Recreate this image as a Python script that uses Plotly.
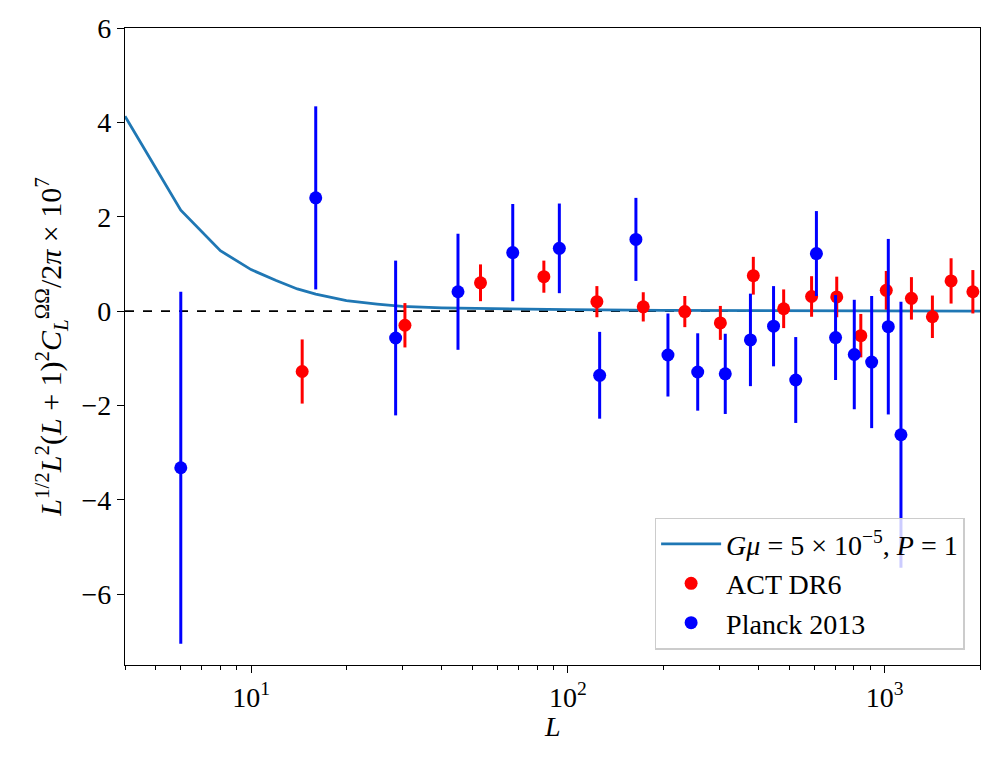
import math
import plotly.graph_objects as go

# Theory curve
theory_L = [4, 6, 8, 10, 12, 14, 16, 18, 20, 25, 30, 40, 60, 100, 200, 500, 1000, 2000]
theory_y = [4.13, 2.14, 1.28, 0.88, 0.65, 0.47, 0.36, 0.28, 0.22, 0.15, 0.10, 0.07, 0.05, 0.03, 0.015, 0.005, 0.002, 0.0]

# ACT DR6
act_L = [14.5, 30.6, 53, 84, 123.5, 173, 234, 303, 385, 480, 588, 706, 841, 1012, 1215, 1415, 1621, 1899]
act_y = [-1.28, -0.30, 0.60, 0.73, 0.20, 0.09, -0.01, -0.25, 0.75, 0.05, 0.31, 0.30, -0.52, 0.44, 0.27, -0.12, 0.64, 0.41]
act_err = [0.68, 0.47, 0.39, 0.34, 0.33, 0.31, 0.33, 0.36, 0.40, 0.41, 0.43, 0.43, 0.46, 0.41, 0.45, 0.45, 0.48, 0.46]

# Planck 2013
planck_L = [6, 16, 28.6, 45, 67, 94, 126, 164, 207, 257, 314, 377, 446, 524, 609, 700, 802, 910, 1027, 1126]
planck_y = [-3.32, 2.40, -0.57, 0.41, 1.24, 1.33, -1.36, 1.52, -0.93, -1.29, -1.33, -0.61, -0.32, -1.46, 1.22, -0.56, -0.92, -1.08, -0.33, -2.62]
planck_err = [3.73, 1.94, 1.64, 1.23, 1.03, 0.95, 0.92, 0.88, 0.88, 0.82, 0.85, 0.98, 0.85, 0.91, 0.90, 0.90, 1.16, 1.40, 1.86, 2.82]

x_range = [4, 2000]
y_range = [-7.5, 6]
y_ticks = [-6, -4, -2, 0, 2, 4, 6]
x_ticks = [10, 100, 1000]
x_ticktext = ["10<sup>1</sup>", "10<sup>2</sup>", "10<sup>3</sup>"]
x_minor = [4, 5, 6, 7, 8, 9, 20, 30, 40, 50, 60, 70, 80, 90,
           200, 300, 400, 500, 600, 700, 800, 900, 2000]

FONT = "Liberation Serif"
FS = 28

fig = go.Figure()

fig.add_trace(go.Scatter(
    x=x_range, y=[0, 0], mode="lines",
    line=dict(color="black", width=1.6, dash="dash"),
    showlegend=False, hoverinfo="skip"))

fig.add_trace(go.Scatter(
    x=theory_L, y=theory_y, mode="lines",
    line=dict(color="#1f77b4", width=2.8),
    name="<i>Gμ</i> = 5 × 10<sup>−5</sup>, <i>P</i> = 1"))

fig.add_trace(go.Scatter(
    x=act_L, y=act_y, mode="markers",
    marker=dict(color="#ff0000", size=13),
    error_y=dict(type="data", array=act_err, color="#ff0000", thickness=3, width=0),
    name="ACT DR6"))

fig.add_trace(go.Scatter(
    x=planck_L, y=planck_y, mode="markers",
    marker=dict(color="#0000ff", size=13),
    error_y=dict(type="data", array=planck_err, color="#0000ff", thickness=3, width=0),
    name="Planck 2013"))

fig.add_annotation(
    text="<i>L</i>", xref="paper", yref="paper", x=0.5, y=-0.097,
    xanchor="center", yanchor="middle", showarrow=False,
    font=dict(family=FONT, size=FS, color="black"))

fig.update_layout(
    width=997, height=769,
    margin=dict(l=125, r=17, t=28, b=104),
    paper_bgcolor="white", plot_bgcolor="white",
    font=dict(family=FONT, size=FS, color="black"),
    showlegend=True,
    legend=dict(
        x=0.982, y=0.024, xanchor="right", yanchor="bottom",
        bgcolor="rgba(255,255,255,0.8)", bordercolor="#cccccc", borderwidth=1.5,
        font=dict(family=FONT, size=FS), tracegroupgap=0, itemwidth=60,
    ),
    xaxis=dict(
        type="log", range=[math.log10(x_range[0]), math.log10(x_range[1])],
        showgrid=False, zeroline=False, automargin=False,
        showline=True, linecolor="black", linewidth=1.3, mirror=True,
        ticks="outside", ticklen=7, tickwidth=1.2, tickcolor="black",
        tickmode="array", tickvals=x_ticks, ticktext=x_ticktext,
        tickfont=dict(size=FS),
        minor=dict(ticks="outside", ticklen=4, tickwidth=1, tickcolor="black",
                   tickmode="array", tickvals=x_minor, showgrid=False),
    ),
    yaxis=dict(
        range=y_range, showgrid=False, zeroline=False, automargin=False,
        showline=True, linecolor="black", linewidth=1.3, mirror=True,
        ticks="outside", ticklen=7, tickwidth=1.2, tickcolor="black",
        tickmode="array", tickvals=y_ticks, tickfont=dict(size=FS),
        title=dict(
            text="<i>L</i><sup>1/2</sup><i>L</i><sup>2</sup>(<i>L</i> + 1)<sup>2</sup><i>C</i><sub><i>L</i></sub><sup>ΩΩ</sup>/2<i>π</i> × 10<sup>7</sup>",
            standoff=10, font=dict(size=30)),
    ),
)

fig.write_html("out.html")
